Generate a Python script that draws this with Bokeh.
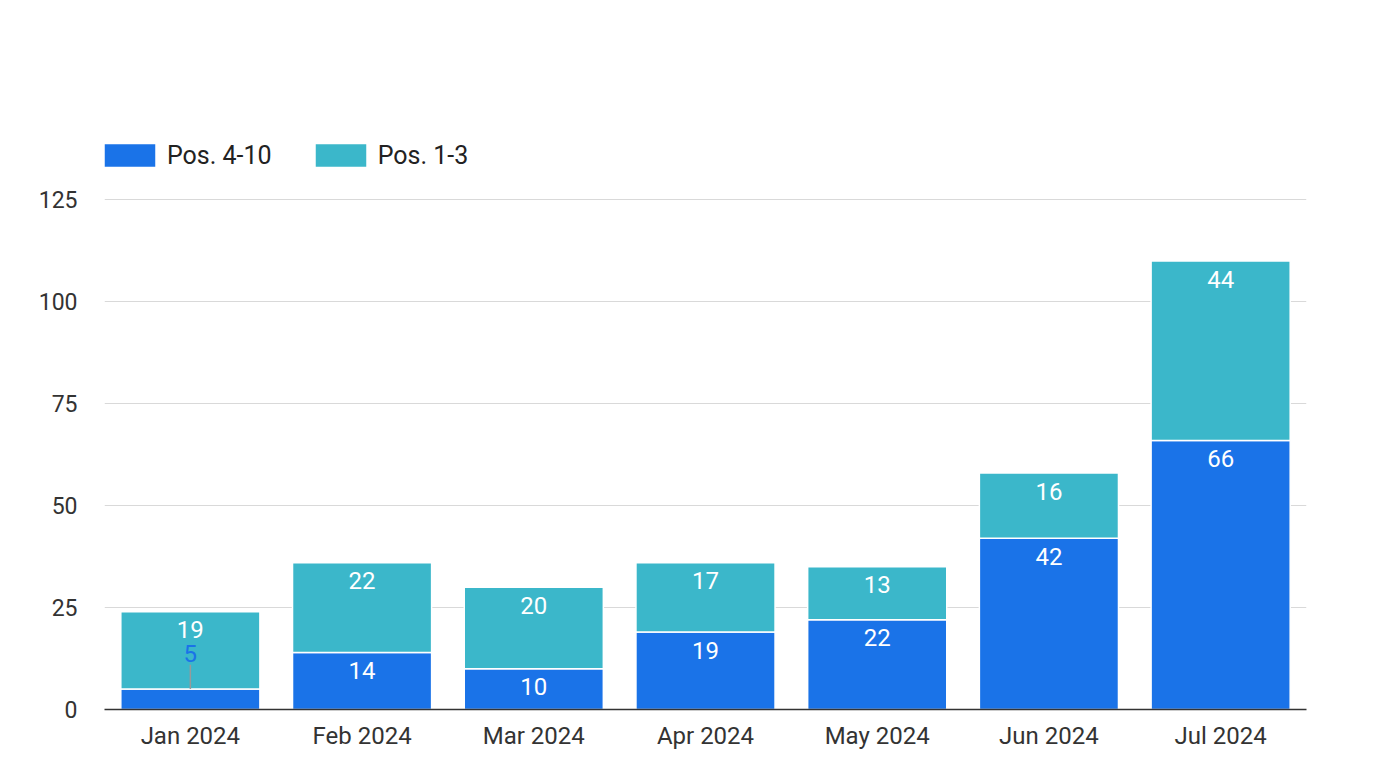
from bokeh.plotting import figure
from bokeh.models import ColumnDataSource, Range1d, Legend, LegendItem, FixedTicker, LabelSet
from bokeh.core.properties import value
from bokeh.embed import file_html
from bokeh.resources import INLINE

months = ["Jan 2024", "Feb 2024", "Mar 2024", "Apr 2024", "May 2024", "Jun 2024", "Jul 2024"]
pos_4_10 = [5, 14, 10, 19, 22, 42, 66]
pos_1_3 = [19, 22, 20, 17, 13, 16, 44]
y_ticks = [0, 25, 50, 75, 100, 125]

BLUE = "#1a73e8"
TEAL = "#3bb7ca"
FONT = "Roboto"
LBL_SIZE = "24px"

tot = [a + b for a, b in zip(pos_4_10, pos_1_3)]
src = ColumnDataSource(dict(month=months, a=pos_4_10, b=pos_1_3, tot=tot,
                            b_lbl=[str(v) for v in pos_1_3]))

# y range extends above the top tick so the legend fits inside the frame
p = figure(x_range=months, y_range=Range1d(0, 144), width=1382, height=770,
           output_backend="svg", toolbar_location=None,
           min_border_left=104, min_border_right=76, min_border_top=122, min_border_bottom=61)
p.outline_line_color = None
p.background_fill_color = "white"
p.border_fill_color = "white"

r1 = p.vbar(x="month", bottom=0, top="a", width=0.81, source=src, fill_color=BLUE,
            line_color="white", line_width=1.5)
r2 = p.vbar(x="month", bottom="a", top="tot", width=0.81, source=src, fill_color=TEAL,
            line_color="white", line_width=1.5)

# labels for the Pos. 1-3 segments (white, near the top inside)
p.add_layout(LabelSet(x="month", y="tot", text="b_lbl", source=src, text_color="white",
                      text_font=value(FONT), text_font_size=LBL_SIZE, text_align="center",
                      text_baseline="middle", y_offset=-18))

# labels for Pos. 4-10: inside if big enough, else above with a leader line
big = [i for i, v in enumerate(pos_4_10) if v >= 8]
small = [i for i, v in enumerate(pos_4_10) if v < 8]
src_big = ColumnDataSource(dict(month=[months[i] for i in big], a=[pos_4_10[i] for i in big],
                                lbl=[str(pos_4_10[i]) for i in big]))
src_small = ColumnDataSource(dict(month=[months[i] for i in small], a=[pos_4_10[i] for i in small],
                                  y1=[pos_4_10[i] + 6 for i in small],
                                  lbl=[str(pos_4_10[i]) for i in small]))
p.add_layout(LabelSet(x="month", y="a", text="lbl", source=src_big, text_color="white",
                      text_font=value(FONT), text_font_size=LBL_SIZE, text_align="center",
                      text_baseline="middle", y_offset=-18))
p.segment(x0="month", y0="a", x1="month", y1="y1", source=src_small, line_color="#999999",
          line_width=1.5)
p.add_layout(LabelSet(x="month", y="a", text="lbl", source=src_small, text_color=BLUE,
                      text_font=value(FONT), text_font_size=LBL_SIZE, text_align="center",
                      text_baseline="middle", y_offset=36))

legend = Legend(items=[LegendItem(label="Pos. 4-10", renderers=[r1]),
                       LegendItem(label="Pos. 1-3", renderers=[r2])],
                orientation="horizontal", location=(-7, 539),
                glyph_width=65, glyph_height=30, label_standoff=5, spacing=36,
                padding=0, margin=0, border_line_color=None, background_fill_alpha=0,
                label_text_font=FONT, label_text_font_size="25px", label_text_color="#222222",
                label_height=30)
p.add_layout(legend, "center")

p.xaxis.axis_line_color = "#333333"
p.xaxis.axis_line_width = 1.5
p.xaxis.major_tick_line_color = None
p.xaxis.minor_tick_line_color = None
p.xaxis.major_label_text_font = FONT
p.xaxis.major_label_text_font_size = "24px"
p.xaxis.major_label_text_color = "#333333"
p.xaxis.major_label_standoff = 6

p.yaxis.ticker = FixedTicker(ticks=y_ticks)
p.yaxis.axis_line_color = None
p.yaxis.major_tick_line_color = None
p.yaxis.minor_tick_line_color = None
p.yaxis.major_label_text_font = FONT
p.yaxis.major_label_text_font_size = "23px"
p.yaxis.major_label_text_color = "#333333"
p.yaxis.major_label_standoff = 21

p.xgrid.grid_line_color = None
p.ygrid.ticker = FixedTicker(ticks=y_ticks)
p.ygrid.grid_line_color = "#d9d9d9"
p.ygrid.grid_line_width = 1.2

open("out.html", "w").write(file_html(p, INLINE))
